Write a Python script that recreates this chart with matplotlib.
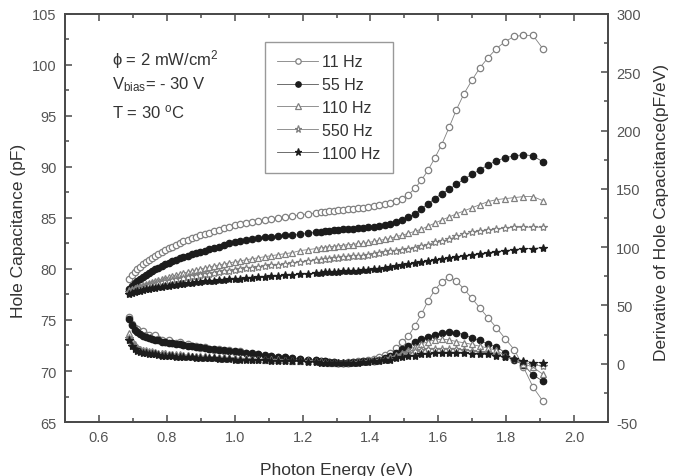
import matplotlib
matplotlib.use("Agg")
import matplotlib.pyplot as plt
from matplotlib.ticker import MultipleLocator

plt.rcParams["font.family"] = ["Liberation Sans", "DejaVu Sans"]
plt.rcParams["mathtext.fontset"] = "custom"
plt.rcParams["mathtext.rm"] = "Liberation Sans"
plt.rcParams["mathtext.it"] = "Liberation Sans:italic"
plt.rcParams["axes.unicode_minus"] = False

# energia del foton (eV)
energia = [
    0.689, 0.697, 0.705, 0.713, 0.721, 0.729, 0.738, 0.747, 0.756, 0.765,
    0.775, 0.785, 0.795, 0.805, 0.816, 0.827, 0.838, 0.849, 0.861, 0.873,
    0.886, 0.899, 0.912, 0.925, 0.939, 0.954, 0.969, 0.984, 1.000, 1.016,
    1.033, 1.051, 1.069, 1.088, 1.107, 1.127, 1.148, 1.170, 1.192, 1.216,
    1.240, 1.253, 1.265, 1.278, 1.292, 1.305, 1.319, 1.333, 1.348, 1.363,
    1.378, 1.393, 1.409, 1.425, 1.442, 1.459, 1.476, 1.494, 1.512, 1.531,
    1.550, 1.570, 1.590, 1.610, 1.632, 1.653, 1.676, 1.699, 1.722, 1.746,
    1.771, 1.797, 1.824, 1.851, 1.879, 1.908]

# capacitancia de huecos (pF)
cap_11 = [
    79.0, 79.4, 79.7, 80.0, 80.2, 80.5, 80.7, 80.9, 81.1, 81.3,
    81.5, 81.7, 81.9, 82.1, 82.2, 82.4, 82.5, 82.7, 82.8, 83.0,
    83.1, 83.3, 83.4, 83.5, 83.7, 83.8, 84.0, 84.1, 84.3, 84.4,
    84.5, 84.6, 84.7, 84.8, 84.9, 85.0, 85.1, 85.2, 85.3, 85.4,
    85.5, 85.6, 85.6, 85.7, 85.7, 85.8, 85.8, 85.9, 85.9, 86.0,
    86.0, 86.1, 86.2, 86.3, 86.4, 86.5, 86.7, 86.9, 87.3, 87.9,
    88.7, 89.7, 90.9, 92.2, 93.9, 95.6, 97.2, 98.5, 99.7, 100.7,
    101.6, 102.3, 102.8, 102.9, 102.9, 101.6]
cap_55 = [
    78.0, 78.3, 78.6, 78.8, 79.0, 79.2, 79.4, 79.6, 79.8, 80.0,
    80.1, 80.3, 80.5, 80.6, 80.8, 80.9, 81.1, 81.2, 81.3, 81.5,
    81.6, 81.7, 81.8, 82.0, 82.1, 82.2, 82.4, 82.5, 82.6, 82.7,
    82.8, 82.9, 83.0, 83.1, 83.1, 83.2, 83.3, 83.3, 83.4, 83.5,
    83.6, 83.6, 83.7, 83.7, 83.8, 83.8, 83.9, 83.9, 83.9, 84.0,
    84.0, 84.1, 84.1, 84.2, 84.3, 84.4, 84.6, 84.8, 85.1, 85.4,
    85.9, 86.4, 86.9, 87.4, 87.8, 88.3, 88.8, 89.3, 89.7, 90.2,
    90.6, 90.9, 91.1, 91.2, 91.1, 90.5]
cap_110 = [
    77.9, 78.0, 78.1, 78.2, 78.3, 78.4, 78.5, 78.6, 78.7, 78.8,
    78.9, 79.0, 79.1, 79.2, 79.3, 79.4, 79.5, 79.6, 79.7, 79.8,
    79.9, 80.0, 80.1, 80.2, 80.3, 80.4, 80.5, 80.6, 80.7, 80.8,
    80.9, 81.0, 81.1, 81.2, 81.3, 81.4, 81.5, 81.6, 81.8, 81.9,
    82.0, 82.1, 82.1, 82.2, 82.2, 82.3, 82.3, 82.4, 82.4, 82.5,
    82.5, 82.6, 82.7, 82.8, 82.9, 83.0, 83.2, 83.3, 83.5, 83.7,
    83.9, 84.2, 84.5, 84.8, 85.1, 85.4, 85.7, 86.0, 86.3, 86.6,
    86.8, 86.9, 87.0, 87.1, 87.1, 86.7]
cap_550 = [
    77.7, 77.8, 77.9, 78.0, 78.1, 78.2, 78.3, 78.4, 78.5, 78.5,
    78.6, 78.7, 78.8, 78.8, 78.9, 79.0, 79.0, 79.1, 79.2, 79.3,
    79.3, 79.4, 79.5, 79.5, 79.6, 79.7, 79.8, 79.8, 79.9, 80.0,
    80.1, 80.1, 80.2, 80.3, 80.4, 80.4, 80.5, 80.6, 80.7, 80.8,
    80.9, 80.9, 81.0, 81.0, 81.1, 81.1, 81.2, 81.2, 81.3, 81.3,
    81.3, 81.4, 81.5, 81.6, 81.7, 81.8, 81.8, 81.9, 82.0, 82.1,
    82.3, 82.4, 82.6, 82.7, 82.9, 83.2, 83.4, 83.6, 83.7, 83.8,
    83.9, 84.0, 84.1, 84.1, 84.1, 84.1]
cap_1100 = [
    77.5, 77.6, 77.7, 77.8, 77.8, 77.9, 78.0, 78.0, 78.1, 78.1,
    78.2, 78.2, 78.3, 78.3, 78.4, 78.4, 78.5, 78.5, 78.6, 78.6,
    78.7, 78.7, 78.8, 78.8, 78.8, 78.9, 78.9, 79.0, 79.0, 79.0,
    79.1, 79.1, 79.2, 79.2, 79.3, 79.3, 79.4, 79.4, 79.5, 79.5,
    79.6, 79.6, 79.7, 79.7, 79.7, 79.7, 79.8, 79.8, 79.8, 79.8,
    79.9, 79.9, 80.0, 80.0, 80.1, 80.2, 80.3, 80.4, 80.5, 80.6,
    80.7, 80.8, 80.9, 81.0, 81.1, 81.2, 81.3, 81.4, 81.5, 81.6,
    81.7, 81.8, 81.9, 82.0, 82.0, 82.1]

# derivada de la capacitancia (pF/eV)
der_11 = [
    40.0, 34.0, 31.0, 29.5, 27.0, 28.0, 25.0, 24.5, 23.0, 25.0,
    21.0, 20.0, 19.0, 20.5, 18.0, 17.5, 18.5, 16.0, 16.5, 15.0,
    15.5, 13.5, 14.5, 13.0, 12.0, 13.0, 11.0, 11.5, 10.0, 10.5,
    9.0, 8.0, 8.5, 7.0, 6.5, 6.0, 5.5, 5.0, 4.0, 3.5,
    3.0, 2.5, 2.0, 1.5, 1.5, 1.0, 1.0, 1.5, 1.5, 2.0,
    2.5, 3.0, 4.0, 5.5, 7.5, 9.5, 13.5, 18.5, 24.0, 32.5,
    42.5, 54.0, 63.5, 70.0, 74.0, 71.0, 64.0, 56.0, 48.0, 39.5,
    31.0, 21.5, 12.0, -3.0, -20.0, -32.0]
der_55 = [
    38.0, 33.0, 29.0, 27.0, 25.5, 24.0, 23.0, 22.0, 21.0, 20.5,
    20.0, 19.0, 18.5, 18.0, 17.5, 17.0, 16.5, 16.0, 15.5, 15.0,
    14.5, 14.0, 13.5, 13.0, 12.5, 12.0, 11.5, 11.0, 10.5, 10.0,
    9.5, 9.0, 8.5, 7.5, 7.0, 6.0, 5.5, 4.5, 4.0, 3.5,
    3.0, 2.5, 2.0, 1.5, 1.5, 1.0, 1.0, 1.0, 1.5, 1.5,
    2.0, 2.0, 2.5, 3.5, 5.0, 7.0, 9.5, 12.5, 15.5, 18.5,
    21.0, 23.0, 25.0, 26.5, 27.5, 26.5, 25.0, 22.0, 20.0, 17.0,
    14.5, 9.5, 3.0, -1.0, -9.5, -15.0]
der_110 = [
    26.0, 20.0, 16.5, 14.5, 13.0, 12.0, 11.5, 11.0, 10.5, 10.0,
    9.5, 9.5, 9.0, 8.5, 8.5, 8.0, 8.0, 7.5, 7.5, 7.0,
    7.0, 6.5, 6.5, 6.0, 6.0, 5.5, 5.5, 5.0, 5.0, 4.5,
    4.5, 4.0, 4.0, 3.5, 3.5, 3.0, 3.0, 2.5, 2.5, 2.0,
    2.0, 1.5, 1.5, 1.0, 1.0, 1.0, 1.0, 1.0, 1.5, 1.5,
    2.0, 2.0, 2.5, 3.0, 4.0, 5.5, 7.5, 9.5, 12.0, 14.5,
    17.0, 19.0, 20.5, 21.0, 20.5, 19.0, 18.0, 16.5, 15.0, 13.5,
    11.5, 7.0, 4.0, 0.0, -3.0, -9.0]
der_550 = [
    22.0, 17.0, 14.0, 12.5, 11.5, 10.5, 10.0, 9.5, 9.0, 9.0,
    8.5, 8.0, 8.0, 7.5, 7.5, 7.0, 7.0, 6.5, 6.5, 6.0,
    6.0, 5.5, 5.5, 5.0, 5.0, 5.0, 4.5, 4.5, 4.0, 4.0,
    4.0, 3.5, 3.5, 3.0, 3.0, 3.0, 2.5, 2.5, 2.0, 2.0,
    1.5, 1.5, 1.0, 1.0, 1.0, 0.5, 0.5, 1.0, 1.0, 1.5,
    1.5, 2.0, 2.5, 3.0, 3.5, 4.5, 6.0, 7.5, 9.0, 10.5,
    11.5, 12.5, 13.0, 13.0, 13.0, 12.5, 12.0, 11.0, 10.0, 9.0,
    7.5, 6.0, 4.0, 1.5, -1.0, -2.0]
der_1100 = [
    20.0, 15.0, 12.5, 11.0, 10.0, 9.5, 9.0, 8.5, 8.0, 8.0,
    7.5, 7.0, 7.0, 6.5, 6.5, 6.0, 6.0, 5.5, 5.5, 5.5,
    5.0, 5.0, 4.5, 4.5, 4.5, 4.0, 4.0, 4.0, 3.5, 3.5,
    3.5, 3.0, 3.0, 3.0, 2.5, 2.5, 2.5, 2.0, 2.0, 1.5,
    1.5, 1.0, 1.0, 0.5, 0.5, 0.5, 0.5, 1.0, 1.0, 1.0,
    1.5, 1.5, 2.0, 2.5, 3.0, 3.5, 4.5, 5.5, 6.5, 7.0,
    8.0, 8.5, 9.0, 9.0, 9.0, 9.0, 9.0, 8.5, 8.5, 8.0,
    7.0, 5.5, 4.0, 2.5, 1.0, 1.0]

frecuencias = ["11 Hz", "55 Hz", "110 Hz", "550 Hz", "1100 Hz"]
capacitancias = [cap_11, cap_55, cap_110, cap_550, cap_1100]
derivadas = [der_11, der_55, der_110, der_550, der_1100]

GRIS = "#808080"
NEGRO = "#1c1c1c"
estilos = [
    dict(marker="o", mfc="white", mec=GRIS, color=GRIS, ms=4.6),
    dict(marker="o", mfc=NEGRO, mec=NEGRO, color="#555555", ms=4.6),
    dict(marker="^", mfc="white", mec=GRIS, color=GRIS, ms=4.8),
    dict(marker="*", mfc="white", mec=GRIS, color=GRIS, ms=6.0),
    dict(marker="*", mfc=NEGRO, mec=NEGRO, color="#555555", ms=6.0),
]

EJE = "#4a4a4a"
TEXTO = "#555555"

fig = plt.figure(figsize=(6.76, 4.77), dpi=100)
ax = fig.add_axes([0.0962, 0.1132, 0.8032, 0.8554])
ax2 = ax.twinx()

lineas = []
for cap, der, est, nombre in zip(capacitancias, derivadas, estilos, frecuencias):
    l, = ax.plot(energia, cap, lw=0.6, mew=0.9, label=nombre, **est)
    ax2.plot(energia, der, lw=0.6, mew=0.9, **est)
    lineas.append(l)

ax.set_xlim(0.5, 2.1)
ax.set_ylim(65, 105)
ax2.set_ylim(-50, 300)

ax.xaxis.set_major_locator(MultipleLocator(0.2))
ax.xaxis.set_minor_locator(MultipleLocator(0.1))
ax.yaxis.set_major_locator(MultipleLocator(5))
ax.yaxis.set_minor_locator(MultipleLocator(2.5))
ax2.yaxis.set_major_locator(MultipleLocator(50))
ax2.yaxis.set_minor_locator(MultipleLocator(25))

for a in (ax, ax2):
    for s in a.spines.values():
        s.set_color(EJE)
        s.set_linewidth(1.3)
ax.tick_params(which="both", direction="in", top=True, right=False,
               color=EJE, width=1.1, labelcolor=TEXTO, labelsize=10.5, pad=6)
ax.tick_params(which="major", length=5)
ax.tick_params(which="minor", length=3)
ax2.tick_params(which="both", direction="in", color=EJE, width=1.1,
                labelcolor=TEXTO, labelsize=10.5, pad=6)
ax2.tick_params(which="major", length=5)
ax2.tick_params(which="minor", length=3)

ax.set_xlabel("Photon Energy (eV)", fontsize=12.5, color="#333333")
ax.set_ylabel("Hole Capacitance (pF)", fontsize=12.5, color="#333333")
ax2.set_ylabel("Derivative of Hole Capacitance(pF/eV)", fontsize=12.5, color="#333333")
ax.xaxis.set_label_coords(0.5, -0.097)
ax.yaxis.set_label_coords(-0.072, 0.47)
ax2.yaxis.set_label_coords(1.085, 0.515)

ax.text(0.087, 0.877, "ϕ = 2 mW/cm$^{2}$", transform=ax.transAxes,
        fontsize=12, color="#333333")
ax.text(0.087, 0.818, "V$_{\\mathrm{bias}}$= - 30 V", transform=ax.transAxes,
        fontsize=12, color="#333333")
ax.text(0.087, 0.747, "T = 30 $^{\\mathrm{o}}$C", transform=ax.transAxes,
        fontsize=12, color="#333333")

leg = ax.legend(handles=lineas, loc="upper left", bbox_to_anchor=(0.368, 0.931),
                borderaxespad=0, fontsize=11.5, frameon=True, fancybox=False,
                edgecolor="#999999", framealpha=1, handlelength=2.6,
                handletextpad=0.25, labelspacing=0.5, borderpad=0.75,
                markerscale=0.85)
leg.get_frame().set_linewidth(1.0)
for t in leg.get_texts():
    t.set_color("#333333")
leg.set_zorder(5)

fig.savefig("out.png", dpi=100)
